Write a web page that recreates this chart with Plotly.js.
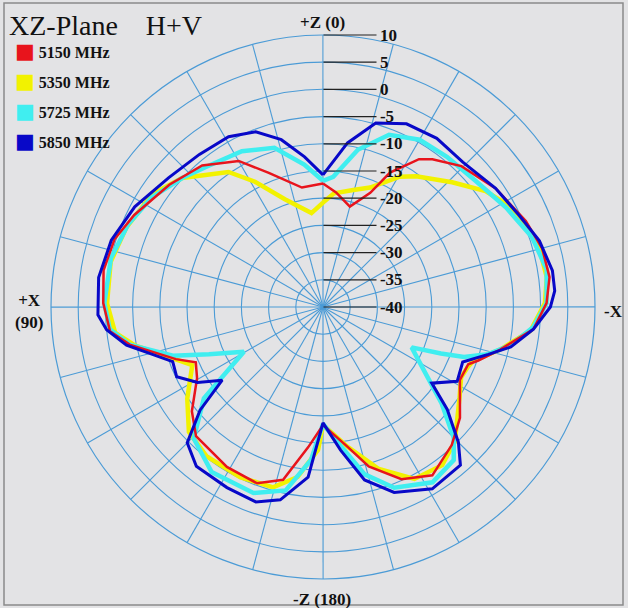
<!DOCTYPE html>
<html>
<head>
<meta charset="utf-8">
<script src="https://cdn.plot.ly/plotly-3.0.1.min.js"></script>
<style>
  html, body { margin: 0; padding: 0; background: #e3e3e5; }
  #chart { width: 628px; height: 608px; }
</style>
</head>
<body>
<div id="chart"></div>
<script>
// Antenna pattern, XZ plane, H+V, in dBi. Angles go counterclockwise from +Z.
const seriesNames = ["5150 MHz", "5350 MHz", "5725 MHz", "5850 MHz"];
const seriesColors = ["#e8141c", "#f2f200", "#40eef0", "#0808c8"];

const theta5150 = [0, 10, 22, 30, 40.5, 51.5, 64, 72, 80.5, 89, 96.5, 101, 109.5, 113.5, 119.5, 128.5, 135.5, 149, 159.5, 167, 174, 180, 190, 196, 204.5, 213, 223, 231, 242, 248.5, 251, 256.5, 264, 271, 277.5, 285, 293, 304.5, 315.5, 323.5, 327, 333.5, 337.5, 345, 353.5];
const r5150 = [-17.3, -17.7, -13.4, -9.0, -5.8, -3.9, -1.4, 0.3, 0.9, 0.4, -0.6, -3.8, -11.3, -14.5, -13.4, -9.2, -6.7, -5.7, -5.4, -7.4, -14.1, -18.3, -13.9, -9.5, -5.2, -3.1, -5.3, -7.6, -11.5, -11.3, -9.8, -6.5, -1.1, 1.1, 2.0, 1.7, 0.5, -1.5, -3.7, -6.2, -7.6, -12.4, -17.3, -20.9, -18.8];

const theta5350 = [0, 7, 19.5, 28.5, 35, 47.5, 56.5, 68, 78, 89, 97, 101.5, 110.5, 114, 124, 133, 142, 154, 164.5, 171.5, 178, 180, 190, 199, 208, 217, 224.5, 236.5, 243, 247.5, 250.5, 256.5, 263.5, 271, 277.5, 285.5, 292, 298.5, 305.5, 314, 324.5, 329.5, 338.5, 345.5, 354.5];
const r5350 = [-20.8, -22.6, -19.0, -13.8, -9.7, -4.9, -2.4, -1.0, -0.1, -0.3, -1.5, -4.7, -11.8, -13.7, -9.9, -6.3, -5.2, -5.2, -5.6, -8.4, -13.7, -18.3, -13.9, -8.5, -4.2, -3.6, -5.4, -9.9, -11.5, -11.2, -10.6, -6.5, -1.6, 0.8, 1.5, 1.2, 0.2, -1.0, -3.3, -7.0, -10.5, -12.2, -16.4, -17.8, -19.0];

const theta5725 = [0, 7.5, 17, 27.5, 39, 47.5, 57.5, 67, 77, 89, 96, 101, 108, 112.5, 119.5, 127.5, 135.5, 146, 159.5, 168.5, 175.5, 180, 187.5, 194, 201.5, 212, 220.5, 225, 231, 245.5, 248.5, 250.5, 254, 258.5, 264.5, 271, 279.5, 288.5, 298.5, 309.5, 320.5, 330, 339, 347.5, 355.5];
const r5725 = [-16.8, -13.6, -9.4, -7.7, -6.6, -4.9, -2.6, -1.1, 0.0, 0.2, -0.6, -3.8, -11.0, -17.3, -23.3, -12.4, -6.1, -3.4, -3.5, -5.6, -11.8, -18.5, -14.1, -8.3, -4.3, -2.0, -3.0, -6.0, -12.0, -22.1, -16.7, -12.5, -8.5, -4.8, -1.2, 1.1, 1.7, 0.5, -1.7, -3.6, -4.2, -4.5, -6.1, -10.4, -16.0];

const theta5850 = [0, 7, 14, 21, 29, 39, 50, 62, 72.5, 82.5, 92, 96, 101, 105, 110, 115.5, 121, 126, 130, 135, 141.5, 152, 161, 167.5, 175, 180, 187, 193.5, 201, 211, 221, 225, 230.5, 235, 241, 248.5, 254, 258, 264, 270, 274, 279, 287, 295, 304.5, 316, 326, 335.5, 344, 351.5];
const r5850 = [-15.7, -12.2, -8.3, -5.5, -4.2, -3.9, -3.0, -0.8, 0.8, 1.6, 1.4, 0.0, -3.2, -7.0, -10.6, -10.2, -13.1, -17.1, -10.5, -4.7, -2.6, -2.4, -2.1, -3.7, -8.6, -18.7, -13.5, -7.3, -3.5, -1.0, -1.5, -4.8, -10.4, -15.6, -11.8, -12.4, -8.4, -4.7, -1.1, 1.8, 2.7, 2.7, 1.6, -0.2, -1.5, -3.0, -2.6, -3.0, -4.8, -9.5];

const radialTicks = [-40, -35, -30, -25, -20, -15, -10, -5, 0, 5, 10];
const radialTickText = ["-40", "-35", "-30", "-25", "-20", "-15", "-10", "-5", "0", "5", "10"];

const serif = "Liberation Serif, Times New Roman, serif";
const gridBlue = "#4b9bd6";

function closeLoop(values, endValue) {
    return values.concat([endValue === undefined ? values[0] : endValue]);
}

function makeTrace(theta, r, idx, width) {
    return {
        type: "scatterpolar",
        mode: "lines",
        theta: closeLoop(theta, 360),
        r: closeLoop(r),
        name: seriesNames[idx],
        line: { color: seriesColors[idx], width: width },
        showlegend: false,
        hoverinfo: "skip"
    };
}

const traces = [
    makeTrace(theta5350, r5350, 1, 4.5),
    makeTrace(theta5725, r5725, 2, 4.5),
    makeTrace(theta5150, r5150, 0, 2.5),
    makeTrace(theta5850, r5850, 3, 3)
];

// legend: coloured squares + names, stacked at the top left
const legendNotes = seriesNames.map((name, i) => ({
    xref: "paper", yref: "paper",
    x: 13 / 628, y: 1 - (51 + i * 30) / 608,
    xanchor: "left", yanchor: "middle",
    showarrow: false,
    align: "left",
    text: "<span style='color:" + seriesColors[i] + ";font-size:21px;font-family:DejaVu Sans'>■</span> <b>" + name + "</b>",
    font: { family: serif, size: 16, color: "#111" }
}));

const axisNotes = [
    { x: 322, y: 23, text: "<b>+Z (0)</b>" },
    { x: 29, y: 311, text: "<b>+X<br>(90)</b>" },
    { x: 613, y: 311, text: "<b>-X</b>" },
    { x: 322, y: 599, text: "<b>-Z (180)</b>" }
].map(a => ({
    xref: "paper", yref: "paper",
    x: a.x / 628, y: 1 - a.y / 608,
    xanchor: "center", yanchor: "middle",
    showarrow: false,
    text: a.text,
    font: { family: serif, size: 17, color: "#111" }
}));

const layout = {
    width: 628,
    height: 608,
    margin: { l: 0, r: 0, t: 0, b: 0 },
    paper_bgcolor: "#e3e3e5",
    showlegend: false,
    title: {
        text: "XZ-Plane\u00a0\u00a0\u00a0\u00a0H+V",
        x: 9 / 628, xanchor: "left",
        y: 1 - 25 / 608, yanchor: "middle",
        font: { family: serif, size: 28, color: "#111" }
    },
    polar: {
        domain: { x: [51 / 628, 595 / 628], y: [1 - 579 / 608, 1 - 35 / 608] },
        bgcolor: "#e3e3e5",
        angularaxis: {
            rotation: 90,
            direction: "counterclockwise",
            tickmode: "linear",
            tick0: 0.02,
            dtick: 15,
            showticklabels: false,
            ticks: "",
            showline: true,
            linecolor: gridBlue,
            linewidth: 1.2,
            gridcolor: gridBlue,
            gridwidth: 1.1
        },
        radialaxis: {
            range: [-40, 10],
            angle: 90,
            side: "clockwise",
            tickmode: "array",
            tickvals: radialTicks,
            ticktext: radialTickText,
            ticks: "outside",
            ticklen: 53,
            tickwidth: 1.2,
            tickcolor: "#222",
            tickangle: 90,
            showline: false,
            gridcolor: gridBlue,
            gridwidth: 1.1,
            tickfont: { family: serif, size: 17, color: "#111", weight: "bold" }
        }
    },
    shapes: [
        {
            type: "rect", xref: "paper", yref: "paper",
            x0: 4 / 628, x1: 623 / 628, y0: 1 - 605 / 608, y1: 1 - 3 / 608,
            line: { color: "#8a8a8a", width: 1.5 }
        }
    ],
    annotations: legendNotes.concat(axisNotes)
};

Plotly.newPlot("chart", traces, layout, { displayModeBar: false, staticPlot: true });
</script>
</body>
</html>
